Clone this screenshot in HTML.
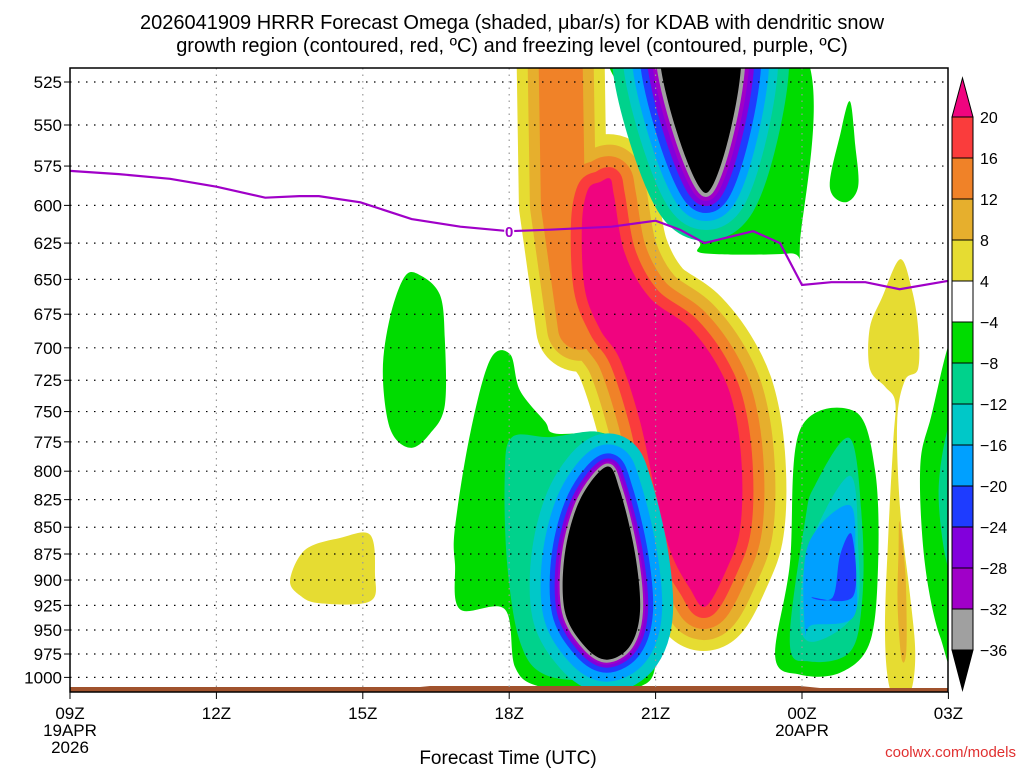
<!DOCTYPE html>
<html><head><meta charset="utf-8"><style>
body{margin:0;background:#fff;width:1024px;height:768px;overflow:hidden}
svg{display:block}
text{font-family:"Liberation Sans","DejaVu Sans",sans-serif}
</style></head><body>
<svg id="c" width="1024" height="768" xmlns="http://www.w3.org/2000/svg">
<text x="512" y="29" font-size="20" text-anchor="middle">2026041909 HRRR Forecast Omega (shaded, μbar/s) for KDAB with dendritic snow</text>
<text x="512" y="52" font-size="20" text-anchor="middle">growth region (contoured, red, ºC) and freezing level (contoured, purple, ºC)</text>
<defs><clipPath id="pc"><rect x="70" y="68" width="878" height="624"/></clipPath></defs>
<g id="fields" clip-path="url(#pc)"></g>
<g id="grid"></g>
<g id="frz"></g>
<g id="axes"></g>
<g id="cbar"></g>
<text x="508" y="764" font-size="19" text-anchor="middle">Forecast Time (UTC)</text>
<text x="1016" y="757" font-size="15" fill="#e03030" text-anchor="end">coolwx.com/models</text>
</svg>
<script>
const pTicks=[525,550,575,600,625,650,675,700,725,750,775,800,825,850,875,900,925,950,975,1000];
const hTicks=[0,3,6,9,12,15,18];
const hLabels=["09Z","12Z","15Z","18Z","21Z","00Z","03Z"];
const cbLevels=[20,16,12,8,4,-4,-8,-12,-16,-20,-24,-28,-32,-36];
const cbColors=["#f0047f","#fa3c3c","#f08228","#e6af2d","#e6dc32","#ffffff","#00dc00","#00d28c","#00c8c8","#00a0ff","#1e3cff","#8200dc","#a000c8","#a0a0a0","#000000"];
const frzHours=[0,1,2.05,3,4,4.7,5.1,5.95,7,8,9,9.84,11.1,12,12.5,13,14,14.55,15,15.6,16.3,17,18];
const frzP=[578,580,583,588,595,594,594,598,609,614,617,616,614,610,616,625,617,625,654,652,652,657,651];
// shaded regions: [hour, hPa]
const posCore=[[10.86,585],[11.07,583],[11.15,594],[11.37,632],[11.88,663],[12.7,685],[13.32,717],[13.63,751],[13.77,800],[13.73,852],[13.48,887],[13.03,926],[12.7,908],[12.3,872],[11.99,817],[11.68,758],[11.27,709],[10.86,686],[10.55,657],[10.49,613],[10.61,590]];
const posTop=[[10.05,505],[10.1,600],[10.45,685]];
const negTopGreen=[[11.27,505],[11.37,535],[11.68,565],[12.09,589],[12.7,612],[12.91,625],[13.0,632],[14.75,632],[14.96,625],[14.96,505]];
const negTopCore=[[12.09,505],[13.73,505],[13.03,592]];
const negBotGreen=[[7.89,850],[8.2,768],[8.61,709],[9.02,705],[9.22,733],[9.73,758],[9.94,768],[10.96,768],[11.17,783],[11.78,850],[11.99,927],[11.99,989],[11.68,1010],[10.86,1016],[9.63,1010],[9.12,989],[8.91,929],[7.99,929],[7.89,885]];
const negBotTeal=[[8.91,804],[9.06,771],[9.84,771],[10.86,767],[11.27,788],[11.78,861],[11.88,940],[11.68,995],[10.86,1003],[9.73,997],[9.22,962],[8.96,885]];
const negBotCore=[[11.0,796],[11.27,817],[11.58,875],[11.68,931],[11.47,967],[11.0,981],[10.55,967],[10.14,931],[10.14,875],[10.45,825]];
const rGreen=[[14.45,978],[14.75,885],[14.96,765],[16.09,750],[16.5,800],[16.56,885],[16.39,963],[15.78,995],[14.96,997]];
const rTeal=[[14.75,963],[15.06,845],[15.27,812],[15.98,772],[16.23,845],[16.23,922],[15.98,973],[15.16,983]];
const rCyan=[[14.96,942],[15.16,867],[15.98,804],[16.15,867],[16.09,932],[15.27,962]];
const rLBlue=[[15.06,952],[15.12,867],[15.98,830],[16.09,885],[16.05,937],[15.2,945]];
const rBlue=[[15.2,917],[15.63,917],[15.78,876],[16.02,857],[16.05,916]];
const gLeft=[[6.86,648],[7.17,647],[7.58,661],[7.68,693],[7.68,745],[7.38,768],[6.97,780],[6.56,764],[6.41,718],[6.56,677]];
const gTopR=[[15.98,536],[16.09,562],[16.15,588],[15.88,598],[15.57,588],[15.78,556]];
const gRight=[[18.2,695],[18.2,975],[17.83,957],[17.52,885],[17.42,800],[17.62,758]];
const tRight=[[18.2,750],[18.2,900],[17.95,880],[17.8,820],[17.95,770]];
const yLeft=[[4.51,900],[4.82,871],[5.53,860],[6.15,857],[6.25,894],[6.15,921],[5.12,923],[4.71,915]];
const yRight=[[16.39,685],[16.64,663],[17.01,636],[17.25,657],[17.38,685],[17.38,716],[17.11,725],[16.95,758],[17.01,833],[17.21,913],[17.32,972],[17.25,1012],[17.05,1025],[16.8,1012],[16.7,953],[16.77,855],[16.87,775],[16.91,742],[16.7,730],[16.39,716]];
const gRightY=[[17.0,845],[17.12,895],[17.14,970],[17.04,980],[16.96,925],[16.98,870]];

const X0=70,PX=48.8,Y0=82,PY=924;
const xs=h=>X0+h*PX;
const ys=p=>Y0+PY*Math.log(p/525);
const NS="http://www.w3.org/2000/svg";
function mk(tag,attrs,parent){const e=document.createElementNS(NS,tag);for(const k in attrs)e.setAttribute(k,attrs[k]);parent.appendChild(e);return e;}
function smooth(pts,closed){
  const P=pts.map(d=>[xs(d[0]),ys(d[1])]);const n=P.length;
  if(!closed){return "M"+P.map(p=>p[0].toFixed(1)+","+p[1].toFixed(1)).join("L");}
  let s="M"+P[0][0].toFixed(1)+","+P[0][1].toFixed(1);
  for(let i=0;i<n;i++){const p0=P[(i-1+n)%n],p1=P[i],p2=P[(i+1)%n],p3=P[(i+2)%n];
    const c1=[p1[0]+(p2[0]-p0[0])/6,p1[1]+(p2[1]-p0[1])/6],c2=[p2[0]-(p3[0]-p1[0])/6,p2[1]-(p3[1]-p1[1])/6];
    s+="C"+c1.map(v=>v.toFixed(1)).join(",")+" "+c2.map(v=>v.toFixed(1)).join(",")+" "+p2[0].toFixed(1)+","+p2[1].toFixed(1);}
  return s+"Z";
}
const FL=document.getElementById('fields');
function fillPoly(pts,color,name){const e=mk('path',{d:smooth(pts,true),fill:color},FL);

return e;}
function ring(d,color,w,name){const e=mk('path',{d:d,fill:color,stroke:color,'stroke-width':w,'stroke-linejoin':'round','stroke-linecap':'round'},FL);

}
const CC=cbColors;
const coreD=smooth(posCore,true), topD=smooth(posTop,false);
ring(coreD+topD,CC[4],88,'positive-band-4');
ring(coreD+topD,CC[3],66,'positive-band-8');
ring(coreD+topD,CC[2],44,'positive-band-12');
ring(coreD,CC[1],22,'positive-band-16');
fillPoly(posCore,CC[0],'positive-core-20');
fillPoly(negTopGreen,CC[6],'neg-top-green');
const ntD=smooth(negTopCore,true);
[[CC[7],96],[CC[8],74],[CC[9],56],[CC[10],40],[CC[11],26],[CC[12],16],[CC[13],8]].forEach((c,i)=>ring(ntD,c[0],c[1],'neg-top-ring-'+i));
fillPoly(negTopCore,CC[14],'neg-top-core');
fillPoly(negBotGreen,CC[6],'neg-bottom-green');
fillPoly(negBotTeal,CC[7],'neg-bottom-teal');
const nbD=smooth(negBotCore,true);
[[CC[8],66],[CC[9],44],[CC[10],26],[CC[11],16],[CC[12],10],[CC[13],6]].forEach((c,i)=>ring(nbD,c[0],c[1],'neg-bottom-ring-'+i));
fillPoly(negBotCore,CC[14],'neg-bottom-core');
fillPoly(rGreen,CC[6],'neg-right-green');
fillPoly(rTeal,CC[7],'neg-right-teal');
fillPoly(rCyan,CC[8],'neg-right-cyan');
fillPoly(rLBlue,CC[9],'neg-right-lightblue');
fillPoly(rBlue,CC[10],'neg-right-blue');
fillPoly(gLeft,CC[6],'neg-left-green');
fillPoly(gTopR,CC[6],'neg-topright-green');
fillPoly(gRight,CC[6],'neg-edge-green');
fillPoly(tRight,CC[7],'neg-edge-teal');
fillPoly(yLeft,CC[4],'pos-left-yellow');
fillPoly(yRight,CC[4],'pos-right-yellow');
fillPoly(gRightY,CC[3],'pos-right-gold');
const sb=mk('path',{d:"M70,687 L420,687 L430,686 L800,686 L820,688 L948,688 L948,694 L70,694Z",fill:"#a0522d"},FL);


const GR=document.getElementById('grid');
pTicks.forEach(p=>{const l=mk('line',{x1:70,x2:948,y1:ys(p),y2:ys(p),stroke:"#000",'stroke-width':1.2,'stroke-dasharray':"1.5,6.5"},GR);

});
hTicks.slice(1,-1).forEach(h=>{const l=mk('line',{x1:xs(h),x2:xs(h),y1:68,y2:692,stroke:"#999",'stroke-width':1.2,'stroke-dasharray':"1.5,5"},GR);

});
const FZ=document.getElementById('frz');
const fl=mk('path',{d:smooth(frzHours.map((h,i)=>[h,frzP[i]]),false),fill:"none",stroke:"#a000c8",'stroke-width':2.2},FZ);


const lx=xs(frzHours[10]),ly=ys(frzP[10]);
const lb=mk('rect',{x:lx-5,y:ly-8,width:10,height:16,fill:"#fff"},FZ);


const lt=mk('text',{x:lx,y:ly+6,'font-size':15,'font-weight':'bold',fill:"#a000c8",'text-anchor':'middle'},FZ);lt.textContent="0";


const AX=document.getElementById('axes');
const fr=mk('rect',{x:70,y:68,width:878,height:624,fill:"none",stroke:"#000",'stroke-width':1.5},AX);


pTicks.forEach(p=>{const t=mk('text',{x:62,y:ys(p)+6,'font-size':17,'text-anchor':'end'},AX);t.textContent=p;


const k=mk('line',{x1:64,x2:70,y1:ys(p),y2:ys(p),stroke:"#000"},AX);

});
hTicks.forEach((h,i)=>{const k=mk('line',{x1:xs(h),x2:xs(h),y1:692,y2:699,stroke:"#000"},AX);


const t=mk('text',{x:xs(h),y:719,'font-size':17,'text-anchor':'middle'},AX);t.textContent=hLabels[i];

});
[["19APR",xs(0),736],["2026",xs(0),753],["20APR",xs(15),736]].forEach(d=>{const t=mk('text',{x:d[1],y:d[2],'font-size':17,'text-anchor':'middle'},AX);t.textContent=d[0];

});
const CB=document.getElementById('cbar');
const cbx=952,cbw=21,cbTop=117,cbStep=41.0;
const tri=mk('path',{d:`M${cbx},${cbTop} L${cbx+cbw/2},78 L${cbx+cbw},${cbTop}Z`,fill:CC[0],stroke:"#000"},CB);


for(let i=1;i<CC.length-1;i++){const r=mk('rect',{x:cbx,y:cbTop+(i-1)*cbStep,width:cbw,height:cbStep,fill:CC[i],stroke:"#000"},CB);

}
const cbBot=cbTop+(CC.length-2)*cbStep;
const tb=mk('path',{d:`M${cbx},${cbBot} L${cbx+cbw/2},${cbBot+40} L${cbx+cbw},${cbBot}Z`,fill:CC[CC.length-1],stroke:"#000"},CB);


cbLevels.forEach((v,i)=>{const t=mk('text',{x:980,y:cbTop+i*cbStep+6,'font-size':16},CB);t.textContent=(v<0?"−"+(-v):v);

});
</script>
</body></html>
